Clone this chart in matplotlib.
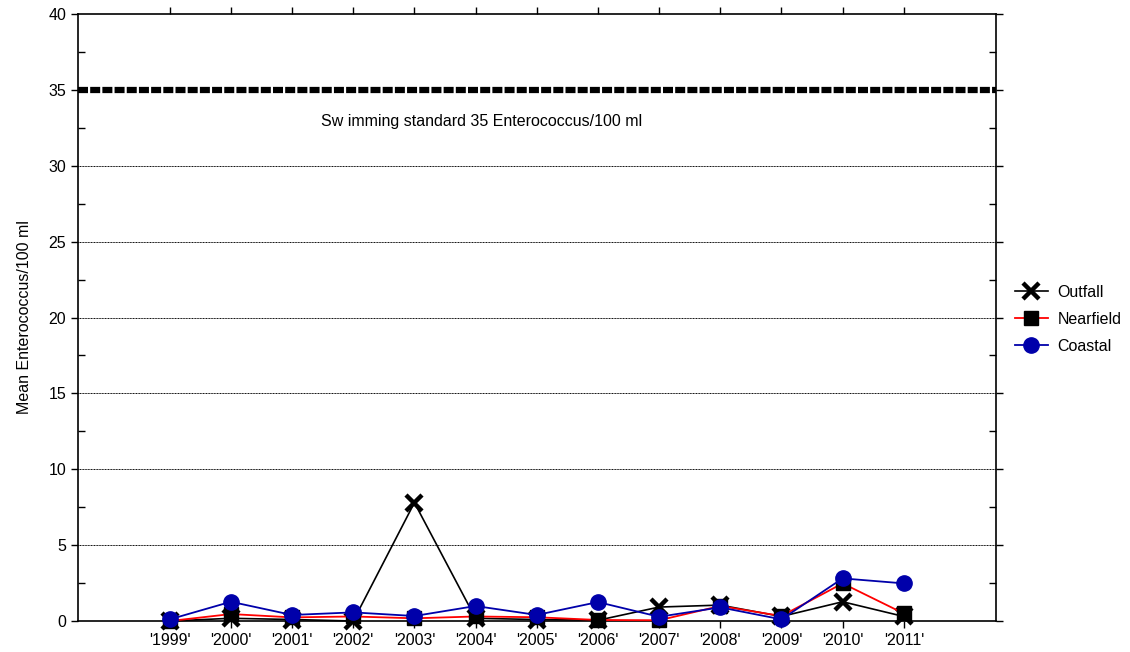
import numpy as np
import matplotlib
matplotlib.use('Agg')
import matplotlib.pyplot as plt

plt.rcParams['font.family'] = ['Liberation Sans', 'DejaVu Sans']

# data (Enterococcus/100 ml)
years = ["'1999'", "'2000'", "'2001'", "'2002'", "'2003'", "'2004'", "'2005'",
         "'2006'", "'2007'", "'2008'", "'2009'", "'2010'", "'2011'"]
outfall = [0.0, 0.18, 0.1, 0.0, 7.8, 0.18, 0.1, 0.05, 0.92, 1.05, 0.3, 1.27, 0.3]
nearfield = [0.0, 0.46, 0.24, 0.3, 0.18, 0.3, 0.25, 0.07, 0.05, 0.99, 0.33, 2.48, 0.5]
coastal = [0.11, 1.27, 0.4, 0.57, 0.33, 0.99, 0.4, 1.25, 0.28, 0.9, 0.11, 2.81, 2.48]
standard = 35
std_label = 'Sw imming standard 35 Enterococcus/100 ml'

fig = plt.figure(figsize=(11.3, 6.52), dpi=100)
ax = fig.add_axes([0.069, 0.0475, 0.812, 0.931])

x = np.arange(len(years))

# grid lines
for g in [5, 10, 15, 20, 25, 30]:
    ax.axhline(g, color='black', lw=0.7, ls=(0, (1, 0.6)), zorder=1)

# swimming standard
ax.axhline(standard, color='black', lw=4.5, ls=(0, (1.6, 0.35)), zorder=2)
ax.text(5.1, 32.9, std_label, fontsize=11.5, ha='center', va='center')

ax.plot(x, outfall, color='black', lw=1.2, marker='x', ms=11, mew=3.2,
        label='Outfall', zorder=3, clip_on=False)
ax.plot(x, nearfield, color='red', lw=1.3, marker='s', ms=10,
        mfc='black', mec='black', label='Nearfield', zorder=4, clip_on=False)
ax.plot(x, coastal, color='#0000aa', lw=1.3, marker='o', ms=11,
        mfc='#0000aa', mec='#0000aa', label='Coastal', zorder=5, clip_on=False)

ax.set_xlim(-1.5, 13.5)
ax.set_ylim(0, 40)
ax.set_yticks(np.arange(0, 41, 5))
ax.set_yticks(np.arange(2.5, 40, 5), minor=True)
ax.set_xticks(x)
ax.set_xticklabels(years)
ax.tick_params(axis='both', labelsize=11.5, direction='out', length=5, width=1,
               top=True, right=True)
ax.tick_params(axis='y', which='minor', direction='in', length=5, width=1, right=True)
ax.set_ylabel('Mean Enterococcus/100 ml', fontsize=11.5, labelpad=12)
for s in ax.spines.values():
    s.set_linewidth(1.2)

fig.legend(loc='center left', bbox_to_anchor=(0.895, 0.51), frameon=False,
           fontsize=11.5, handlelength=2.1, handletextpad=0.6, labelspacing=0.75,
           borderaxespad=0, borderpad=0.2)

fig.savefig('out.png', dpi=100)
